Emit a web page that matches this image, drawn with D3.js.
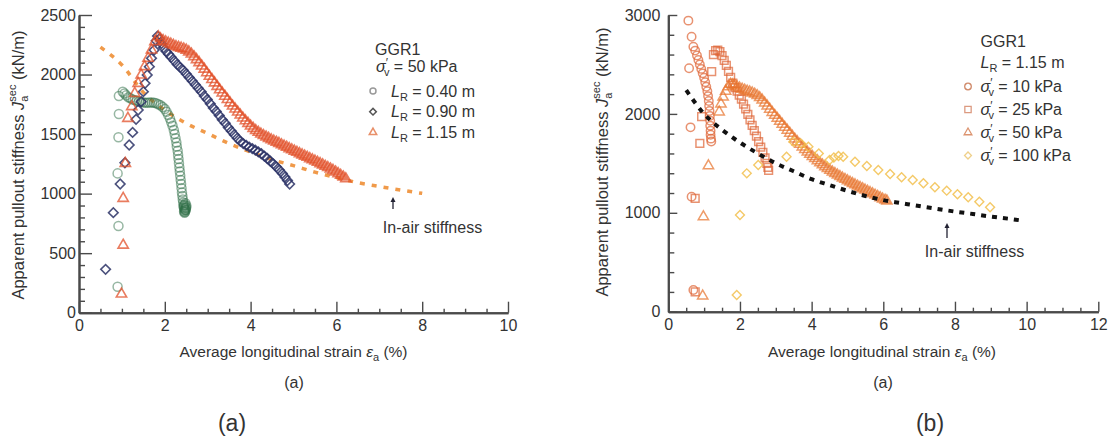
<!DOCTYPE html>
<html><head><meta charset="utf-8">
<script src="https://cdn.jsdelivr.net/npm/d3@7"></script>
<style>
body{margin:0;background:#fff}
svg{display:block}
text{font-family:"Liberation Sans",Arial,sans-serif;fill:#333}
</style>
</head><body>
<svg id="c" width="1111" height="442"></svg>
<script>
// ---------------- DATA ----------------
const leftXTicks = [0, 2, 4, 6, 8, 10];
const leftYTicks = [0, 500, 1000, 1500, 2000, 2500];
const rightXTicks = [0, 2, 4, 6, 8, 10, 12];
const rightYTicks = [0, 1000, 2000, 3000];

const leftLegendLabels = ["0.40", "0.90", "1.15"];
const rightLegendLabels = ["10", "25", "50", "100"];

// Left panel: GGR1, sigma'v = 50 kPa
const lr040 = [[0.90,218],[0.92,728],[0.90,1170],[0.92,1473],[0.93,1668],[0.93,1819],[1.02,1856],
 [1.06,1840],[1.10,1825],[1.15,1810],[1.20,1800],[1.25,1790],[1.30,1785],[1.35,1780],[1.40,1774],[1.45,1770],
 [1.50,1766],[1.55,1764],[1.60,1764],[1.65,1765],[1.70,1766],[1.75,1763],[1.80,1758],[1.85,1750],[1.90,1742],
 [1.95,1728],[2.00,1710],[2.04,1688],[2.08,1660],[2.12,1630],[2.15,1600],[2.18,1570],[2.21,1535],[2.23,1500],
 [2.25,1465],[2.27,1430],[2.28,1395],[2.30,1360],[2.31,1325],[2.32,1290],[2.33,1255],[2.34,1220],[2.35,1185],
 [2.36,1150],[2.37,1115],[2.38,1080],[2.39,1045],[2.40,1010],[2.41,980],[2.42,950],[2.43,925],[2.44,900],
 [2.45,880],[2.46,860],[2.47,845],[2.48,860],[2.49,880],[2.50,900],[2.48,920],[2.46,905],[2.47,870],
 [2.45,850],[2.49,865],[2.44,890],[2.50,885],[2.46,840]];
const lr090 = [[0.62,364],[0.80,840],[0.96,1081],[1.07,1259],[1.17,1408],[1.25,1514],[1.33,1624],[1.38,1702],
 [1.45,1772],[1.50,1856],[1.54,1926],[1.59,1996],[1.64,2066],[1.69,2136],[1.75,2206],[1.80,2284],[1.83,2323],
 [1.87,2300],[1.92,2260],[1.97,2225],[2.03,2195],[2.09,2170],[2.15,2145],[2.22,2115],[2.29,2085],[2.36,2060],
 [2.43,2035],[2.50,2005],[2.57,1975],[2.64,1945],[2.71,1915],[2.78,1885],[2.85,1855],[2.92,1820],[2.99,1790],
 [3.06,1755],[3.13,1720],[3.20,1690],[3.27,1655],[3.34,1620],[3.41,1590],[3.48,1555],[3.55,1525],[3.62,1495],
 [3.69,1465],[3.76,1440],[3.83,1420],[3.90,1405],[3.97,1390],[4.04,1378],[4.11,1365],[4.18,1350],[4.25,1335],
 [4.32,1315],[4.39,1295],[4.46,1272],[4.53,1250],[4.60,1225],[4.67,1198],[4.74,1170],[4.80,1140],[4.86,1110],[4.91,1080]];
const lr115 = [[0.99,157],[1.03,567],[1.03,960],[1.08,1254],[1.14,1632],[1.23,1730],[1.30,1842],[1.38,1926],
 [1.45,1996],[1.53,2066],[1.61,2136],[1.69,2206],[1.77,2276],[1.85,2317],
 [1.90,2300],[1.96,2285],[2.02,2275],[2.08,2265],[2.14,2255],[2.20,2245],[2.26,2235],[2.32,2228],[2.38,2222],
 [2.44,2215],[2.50,2205],[2.56,2190],[2.62,2172],[2.68,2150],[2.74,2125],[2.80,2100],[2.86,2072],[2.92,2045],
 [2.98,2015],[3.04,1985],[3.10,1958],[3.16,1930],[3.22,1900],[3.28,1872],[3.34,1845],[3.40,1818],[3.46,1790],
 [3.52,1762],[3.58,1735],[3.64,1710],[3.70,1685],[3.76,1660],[3.82,1635],[3.88,1612],[3.94,1590],[4.00,1568],
 [4.06,1548],[4.12,1530],[4.18,1515],[4.24,1500],[4.30,1488],[4.36,1476],[4.42,1464],[4.48,1452],[4.54,1442],
 [4.60,1432],[4.66,1422],[4.72,1410],[4.78,1400],[4.84,1390],[4.90,1378],[4.96,1368],[5.02,1357],[5.08,1347],
 [5.14,1336],[5.20,1325],[5.26,1315],[5.32,1305],[5.38,1294],[5.44,1284],[5.50,1274],[5.56,1263],[5.62,1252],
 [5.68,1241],[5.74,1230],[5.80,1219],[5.86,1207],[5.92,1195],[5.98,1182],[6.04,1168],[6.10,1154],[6.16,1140],[6.22,1125]];
const inAirLeft = [[0.5,2230],[1,2080],[1.5,1850],[2,1700],[2.5,1590],[3,1505],[3.5,1420],[4,1350],[4.5,1285],
 [5,1235],[5.5,1180],[6,1135],[6.5,1092],[7,1060],[7.5,1030],[8,1002]];

// Right panel: GGR1, L_R = 1.15 m
const sv10 = [[0.56,2943],[0.65,2781],[0.58,2461],[0.62,1864],[0.65,1163],[0.70,219],
 [0.70,2680],[0.75,2640],[0.80,2590],[0.84,2545],[0.88,2500],[0.92,2455],[0.96,2410],[1.00,2365],[1.03,2320],
 [1.06,2275],[1.09,2230],[1.11,2180],[1.13,2130],[1.14,2080],[1.15,2030],[1.16,1980],[1.17,1930],[1.17,1880],
 [1.18,1830],[1.18,1790],[1.19,1750],[1.20,1720]];
const sv25 = [[0.75,200],[0.75,1147],[0.88,1703],[0.93,1972],[1.21,2427],
 [1.26,2600],[1.32,2640],[1.38,2645],[1.44,2630],[1.50,2590],[1.56,2540],[1.62,2490],[1.68,2430],[1.74,2370],
 [1.80,2310],[1.86,2265],[1.92,2230],[1.98,2190],[2.04,2150],[2.10,2100],[2.16,2050],[2.22,1995],[2.28,1940],
 [2.34,1885],[2.40,1830],[2.46,1775],[2.52,1720],[2.58,1665],[2.64,1610],[2.70,1555],[2.75,1500],[2.78,1460],[2.80,1430]];
const sv50 = [[0.96,159],[0.98,960],[1.12,1476],
 [1.42,2020],[1.47,2100],[1.53,2170],[1.60,2230],[1.67,2275],[1.74,2300],[1.80,2295],
 [1.85,2290],[1.92,2275],[1.99,2262],[2.06,2250],[2.13,2240],[2.20,2230],[2.27,2222],[2.34,2212],[2.41,2200],
 [2.48,2185],[2.55,2165],[2.62,2140],[2.69,2110],[2.76,2080],[2.83,2048],[2.90,2015],[2.97,1985],[3.04,1955],
 [3.11,1925],[3.18,1895],[3.25,1865],[3.32,1835],[3.39,1805],[3.46,1775],[3.53,1745],[3.60,1718],[3.67,1692],
 [3.74,1666],[3.81,1640],[3.88,1615],[3.95,1592],[4.02,1570],[4.09,1548],[4.16,1527],[4.23,1505],[4.30,1485],
 [4.37,1466],[4.44,1448],[4.51,1430],[4.58,1413],[4.65,1397],[4.72,1382],[4.79,1367],[4.86,1352],[4.93,1338],
 [5.00,1324],[5.07,1310],[5.14,1296],[5.21,1283],[5.28,1270],[5.35,1257],[5.42,1244],[5.49,1231],[5.56,1218],
 [5.63,1205],[5.70,1192],[5.77,1179],[5.84,1166],[5.91,1153],[5.98,1140],[6.05,1128],[6.10,1120]];
const sv100 = [[1.91,169],[2.00,978],[2.19,1399],[2.51,1483],[3.30,1567],[3.49,1719],[3.70,1700],[3.91,1668],
 [4.20,1600],[4.50,1533],[4.62,1560],[4.75,1575],[4.88,1567],[5.21,1517],[5.54,1473],[5.86,1433],[6.19,1392],
 [6.51,1359],[6.82,1332],[7.12,1298],[7.44,1258],[7.77,1224],[8.07,1187],[8.37,1157],[8.68,1112],[8.98,1056]];
const inAirRight = [[0.5,2240],[1,2000],[1.5,1840],[2,1710],[2.5,1600],[3,1500],[3.5,1420],[4,1340],[4.5,1280],
 [5,1222],[5.5,1170],[6,1128],[6.5,1098],[7,1068],[7.5,1040],[8,1012],[8.5,988],[9,962],[9.5,940],[9.8,925]];

// ---------------- DRAW ----------------
const svg = d3.select("#c");
const xL = d3.scaleLinear().domain([0, 10]).range([79, 508]);
const yL = d3.scaleLinear().domain([0, 2500]).range([312.7, 15]);
const xR = d3.scaleLinear().domain([0, 12]).range([668.3, 1098.3]);
const yR = d3.scaleLinear().domain([0, 3000]).range([311.7, 15]);

const AX = "#4a4a4a";
function styleAxis(sel, sw) {
  sel.attr("font-family", null).attr("font-size", null);
  sel.selectAll("path.domain").attr("stroke", AX).attr("stroke-width", sw);
  sel.selectAll(".tick line").attr("stroke", AX).attr("stroke-width", 1.4);
  sel.selectAll(".tick text").attr("font-size", 16).style("fill", "#333");
}
function drawAxes(xs, ys, xT, yT, xStep, yStep, xMaj, yMaj, pad) {
  const [x0, x1] = xs.domain(), [y0, y1] = ys.domain();
  const xMinor = d3.range(x0, x1 + 1e-9, xStep).filter(v => !xT.includes(+v.toFixed(3)));
  const yMinor = d3.range(y0, y1 + 1e-9, yStep).filter(v => !yT.includes(v));
  const gx = svg.append("g").attr("transform", `translate(0,${ys.range()[0]})`);
  gx.append("g").call(d3.axisBottom(xs).tickValues(xMinor).tickFormat("").tickSizeInner(-4).tickSizeOuter(0)).call(styleAxis, 2);
  gx.append("g").call(d3.axisBottom(xs).tickValues(xT).tickFormat(d3.format("d")).tickSizeInner(-xMaj).tickSizeOuter(0).tickPadding(7)).call(styleAxis, 2);
  const gy = svg.append("g").attr("transform", `translate(${xs.range()[0]},0)`);
  gy.append("g").call(d3.axisLeft(ys).tickValues(yMinor).tickFormat("").tickSizeInner(-6).tickSizeOuter(0)).call(styleAxis, 2);
  gy.append("g").call(d3.axisLeft(ys).tickValues(yT).tickFormat(d3.format("d")).tickSizeInner(-yMaj).tickSizeOuter(0).tickPadding(pad)).call(styleAxis, 2);
}
drawAxes(xL, yL, leftXTicks, leftYTicks, 0.5, 100, 11, 13, 3);
drawAxes(xR, yR, rightXTicks, rightYTicks, 0.5, 200, 10, 9, 8);

const SH = {
  circle: {type: d3.symbolCircle, rot: 0},
  diamond: {type: d3.symbolSquare, rot: 45},
  square: {type: d3.symbolSquare, rot: 0},
  triangle: {type: d3.symbolTriangle, rot: 0}
};
function series(data, xs, ys, shape, size, color, op, sw) {
  const s = SH[shape];
  svg.append("g").selectAll("path").data(data).join("path")
    .attr("d", d3.symbol().type(s.type).size(size))
    .attr("transform", d => `translate(${xs(d[0])},${ys(d[1])}) rotate(${s.rot})`)
    .attr("fill", "none").attr("stroke", color).attr("stroke-opacity", op).attr("stroke-width", sw);
}
function inAir(data, xs, ys, color, w, dash) {
  svg.append("path").datum(data)
    .attr("d", d3.line().curve(d3.curveMonotoneX).x(d => xs(d[0])).y(d => ys(d[1])))
    .attr("fill", "none").attr("stroke", color).attr("stroke-width", w).attr("stroke-dasharray", dash);
}

// left panel
inAir(inAirLeft, xL, yL, "#f09a4a", 3.5, "5,7");
series(lr040, xL, yL, "circle", 64, "#2f7048", 0.5, 1.5);
series(lr090, xL, yL, "diamond", 46, "#2c3266", 0.85, 1.6);
series(lr115, xL, yL, "triangle", 46, "#e2502a", 0.75, 1.6);

// right panel
series(sv10, xR, yR, "circle", 56, "#de6434", 0.7, 1.5);
series(sv25, xR, yR, "square", 60, "#de6434", 0.7, 1.5);
series(sv50, xR, yR, "triangle", 46, "#e8742e", 0.72, 1.5);
series(sv100, xR, yR, "diamond", 40, "#f2c04e", 0.85, 1.4);
inAir(inAirRight, xR, yR, "#111", 4, "5,6");

// ---------------- TEXT ----------------
function ylabel(x, y) {
  const t = svg.append("text").attr("transform", `translate(${x},${y}) rotate(-90)`)
    .attr("text-anchor", "middle").attr("font-size", 16.5);
  t.append("tspan").text("Apparent pullout stiffness ");
  t.append("tspan").attr("font-style", "italic").text("J");
  t.append("tspan").attr("font-size", 11).attr("dy", 4).text("a");
  t.append("tspan").attr("font-size", 11).attr("dx", -6).attr("dy", -12).text("sec");
  t.append("tspan").attr("dy", 8).text(" (kN/m)");
}
ylabel(24, 165);
ylabel(608, 162);

function xlabel(x, y) {
  const t = svg.append("text").attr("x", x).attr("y", y).attr("text-anchor", "middle").attr("font-size", 15.5);
  t.append("tspan").text("Average longitudinal strain ");
  t.append("tspan").attr("font-style", "italic").text("ε");
  t.append("tspan").attr("font-size", 11).attr("dy", 4).text("a");
  t.append("tspan").attr("dy", -4).text(" (%)");
}
xlabel(293.5, 356.5);
xlabel(882, 356.5);

svg.append("text").attr("x", 294).attr("y", 388).attr("text-anchor", "middle").attr("font-size", 16).text("(a)");
svg.append("text").attr("x", 883).attr("y", 388).attr("text-anchor", "middle").attr("font-size", 16).text("(a)");
svg.append("text").attr("x", 232).attr("y", 431).attr("text-anchor", "middle").attr("font-size", 23).text("(a)");
svg.append("text").attr("x", 930).attr("y", 431).attr("text-anchor", "middle").attr("font-size", 23).text("(b)");

function sigma(t, rest) {
  t.append("tspan").attr("font-style", "italic").text("σ");
  t.append("tspan").attr("font-size", 12).attr("dy", -5).text("′");
  t.append("tspan").attr("font-size", 11).attr("dx", -4).attr("dy", 9).text("v");
  t.append("tspan").attr("dy", -4).text(rest);
}
function LR(t, rest) {
  t.append("tspan").attr("font-style", "italic").text("L");
  t.append("tspan").attr("font-size", 11).attr("dy", 4).text("R");
  t.append("tspan").attr("dy", -4).text(rest);
}

// left legend
svg.append("text").attr("x", 375).attr("y", 55).attr("font-size", 16).text("GGR1");
sigma(svg.append("text").attr("x", 376).attr("y", 72).attr("font-size", 16), " = 50 kPa");
const leftLegShapes = ["circle", "diamond", "triangle"];
const leftLegColors = ["#999", "#555", "#e8906a"];
const leftLegSizes = [28, 22, 24];
leftLegendLabels.forEach((lab, i) => {
  const yy = 91 + i * 20.7;
  const s = SH[leftLegShapes[i]];
  svg.append("path").attr("d", d3.symbol().type(s.type).size(leftLegSizes[i])())
    .attr("transform", `translate(373,${yy}) rotate(${s.rot})`)
    .attr("fill", "none").attr("stroke", leftLegColors[i]).attr("stroke-width", 1.5);
  LR(svg.append("text").attr("x", 391).attr("y", yy + 5.5).attr("font-size", 16), ` = ${lab} m`);
});

// right legend
svg.append("text").attr("x", 980.5).attr("y", 46.5).attr("font-size", 16).text("GGR1");
LR(svg.append("text").attr("x", 980.5).attr("y", 68).attr("font-size", 16), " = 1.15 m");
const rightLegShapes = ["circle", "square", "triangle", "diamond"];
const rightLegColors = ["#d08a6a", "#dc9a80", "#dc9470", "#efd08a"];
const rightLegSizes = [34, 40, 26, 24];
rightLegendLabels.forEach((lab, i) => {
  const yy = 86.5 + i * 23;
  const s = SH[rightLegShapes[i]];
  svg.append("path").attr("d", d3.symbol().type(s.type).size(rightLegSizes[i])())
    .attr("transform", `translate(968,${yy}) rotate(${s.rot})`)
    .attr("fill", "none").attr("stroke", rightLegColors[i]).attr("stroke-width", 1.3);
  sigma(svg.append("text").attr("x", 980.5).attr("y", yy + 5).attr("font-size", 16), ` = ${lab} kPa`);
});

// in-air annotations
function annot(ax, yTip, yBot, tx, ty) {
  svg.append("line").attr("x1", ax).attr("x2", ax).attr("y1", yTip + 3).attr("y2", yBot)
    .attr("stroke", "#223").attr("stroke-width", 1.3);
  svg.append("path").attr("d", `M${ax},${yTip} l-2.5,5 l5,0 z`).attr("fill", "#223");
  svg.append("text").attr("x", tx).attr("y", ty).attr("text-anchor", "middle").attr("font-size", 16).text("In-air stiffness");
}
annot(393, 197, 209, 432.5, 233);
annot(947, 223, 238, 974.5, 257);
</script>
</body></html>
